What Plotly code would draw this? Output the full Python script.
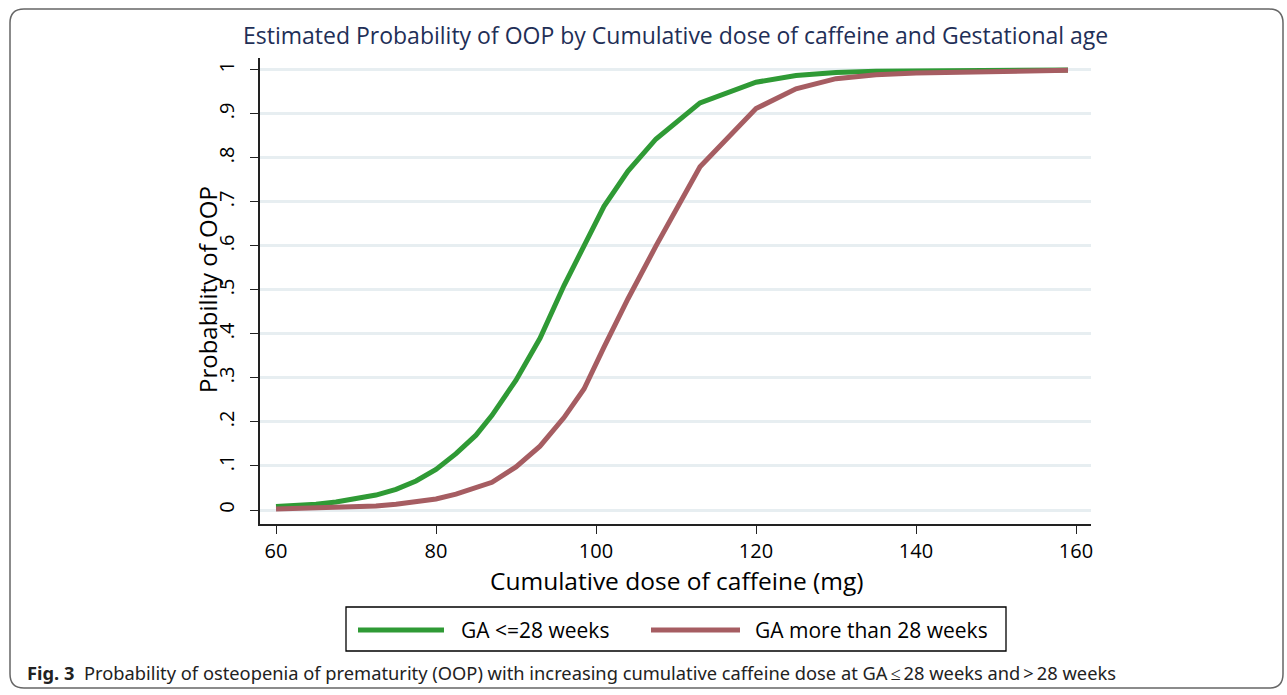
import plotly.graph_objects as go

# ---- data ----
dose_mg = [60, 62.5, 65, 67.5, 70, 72.5, 75, 77.5, 80, 82.5, 85, 87, 90, 93, 96,
           98.5, 101, 104, 107.5, 113, 120, 125, 130, 135, 140, 150, 159]
prob_ga_le28 = [0.008, 0.010, 0.013, 0.018, 0.025, 0.034, 0.047, 0.066, 0.092, 0.128,
                0.170, 0.215, 0.295, 0.390, 0.510, 0.600, 0.690, 0.770, 0.843, 0.925,
                0.972, 0.987, 0.994, 0.997, 0.998, 0.999, 1.000]
prob_ga_gt28 = [0.002, 0.003, 0.004, 0.005, 0.007, 0.009, 0.013, 0.018, 0.025, 0.036,
                0.050, 0.063, 0.098, 0.145, 0.210, 0.275, 0.370, 0.480, 0.600, 0.780,
                0.912, 0.957, 0.980, 0.989, 0.993, 0.997, 0.999]
series_names = ["GA <=28 weeks", "GA more than 28 weeks"]
x_ticks = [60, 80, 100, 120, 140, 160]
y_ticks = [0, 0.1, 0.2, 0.3, 0.4, 0.5, 0.6, 0.7, 0.8, 0.9, 1]
y_ticklabels = ["0", ".1", ".2", ".3", ".4", ".5", ".6", ".7", ".8", ".9", "1"]

# ---- layout geometry (pixels) ----
W, H = 1287, 695
L, R, T, B = 260, 196, 58, 171
PW, PH = W - L - R, H - T - B


def px(xp):
    return (xp - L) / PW


def py(yp):
    return (H - B - yp) / PH


GREEN = "#2f9a35"
RED = "#a65d62"
NAVY = "#1f2f57"
FONT = "Open Sans"

fig = go.Figure()
fig.add_trace(go.Scatter(x=dose_mg, y=prob_ga_le28, mode="lines", name=series_names[0],
                         line=dict(color=GREEN, width=5), showlegend=False))
fig.add_trace(go.Scatter(x=dose_mg, y=prob_ga_gt28, mode="lines", name=series_names[1],
                         line=dict(color=RED, width=5), showlegend=False))

fig.update_layout(
    width=W, height=H,
    margin=dict(l=L, r=R, t=T, b=B, pad=0),
    paper_bgcolor="white", plot_bgcolor="white",
    font=dict(family=FONT, color="black"),
    showlegend=False,
)
fig.update_xaxes(
    range=[58, 161.875], tickvals=x_ticks, ticks="outside", ticklen=8, tickwidth=1.3,
    tickcolor="#222", showline=True, linecolor="#222", linewidth=1.5,
    showgrid=False, zeroline=False, tickfont=dict(size=20, family=FONT),
    ticklabelstandoff=0,
)
fig.update_yaxes(
    range=[-0.0318, 1.027], tickvals=y_ticks, ticktext=y_ticklabels, ticks="outside",
    ticklen=8, tickwidth=1.3, tickcolor="#222", showline=True, linecolor="#222",
    linewidth=1.5, showgrid=True, gridcolor="#e7eef1", gridwidth=2.5, zeroline=False,
    tickangle=-90, tickfont=dict(size=20, family=FONT), ticklabelstandoff=8,
)

annotations = [
    dict(text="Estimated Probability of OOP by Cumulative dose of caffeine and Gestational age",
         x=0.5, y=py(35), xref="paper", yref="paper", showarrow=False,
         xanchor="center", yanchor="middle", font=dict(size=23, color=NAVY, family=FONT)),
    dict(text="Cumulative dose of caffeine (mg)", x=px(676), y=py(580), xref="paper",
         yref="paper", showarrow=False, xanchor="center", yanchor="middle",
         font=dict(size=24.5, family=FONT)),
    dict(text="Probability of OOP", x=px(207), y=py(290), xref="paper", yref="paper",
         showarrow=False, xanchor="center", yanchor="middle", textangle=-90,
         font=dict(size=24, family=FONT)),
    dict(text=series_names[0], x=px(459), y=py(630), xref="paper", yref="paper",
         showarrow=False, xanchor="left", yanchor="middle", font=dict(size=21, family=FONT)),
    dict(text=series_names[1], x=px(753), y=py(630), xref="paper", yref="paper",
         showarrow=False, xanchor="left", yanchor="middle", font=dict(size=21, family=FONT)),
    dict(text="<b>Fig. 3</b>  Probability of osteopenia of prematurity (OOP) with increasing "
              "cumulative caffeine dose at GA\u2009\u2264\u200928 weeks and\u2009>\u200928 weeks",
         x=px(25), y=py(672), xref="paper", yref="paper", showarrow=False,
         xanchor="left", yanchor="middle", font=dict(size=18.3, family="Noto Sans", color="#222")),
]
fig.update_layout(annotations=annotations)

# outer rounded frame
x0, x1, y0, y1, r = 10, 1283, 9, 688, 14
frame = (f"M {px(x0 + r)} {py(y0)} L {px(x1 - r)} {py(y0)} "
         f"Q {px(x1)} {py(y0)} {px(x1)} {py(y0 + r)} "
         f"L {px(x1)} {py(y1 - r)} Q {px(x1)} {py(y1)} {px(x1 - r)} {py(y1)} "
         f"L {px(x0 + r)} {py(y1)} Q {px(x0)} {py(y1)} {px(x0)} {py(y1 - r)} "
         f"L {px(x0)} {py(y0 + r)} Q {px(x0)} {py(y0)} {px(x0 + r)} {py(y0)} Z")
shapes = [
    dict(type="path", path=frame, xref="paper", yref="paper",
         line=dict(color="#666", width=1.5), fillcolor="rgba(0,0,0,0)", layer="below"),
    # legend box
    dict(type="rect", x0=px(346), x1=px(1006), y0=py(607), y1=py(651), xref="paper",
         yref="paper", line=dict(color="black", width=1.3)),
    dict(type="line", x0=px(358), x1=px(444), y0=py(630), y1=py(630), xref="paper",
         yref="paper", line=dict(color=GREEN, width=5)),
    dict(type="line", x0=px(651), x1=px(740), y0=py(630), y1=py(630), xref="paper",
         yref="paper", line=dict(color=RED, width=5)),
]
fig.update_layout(shapes=shapes)

fig.write_html("out.html", config={"displayModeBar": False},
               post_script="document.body.style.margin='0';")
